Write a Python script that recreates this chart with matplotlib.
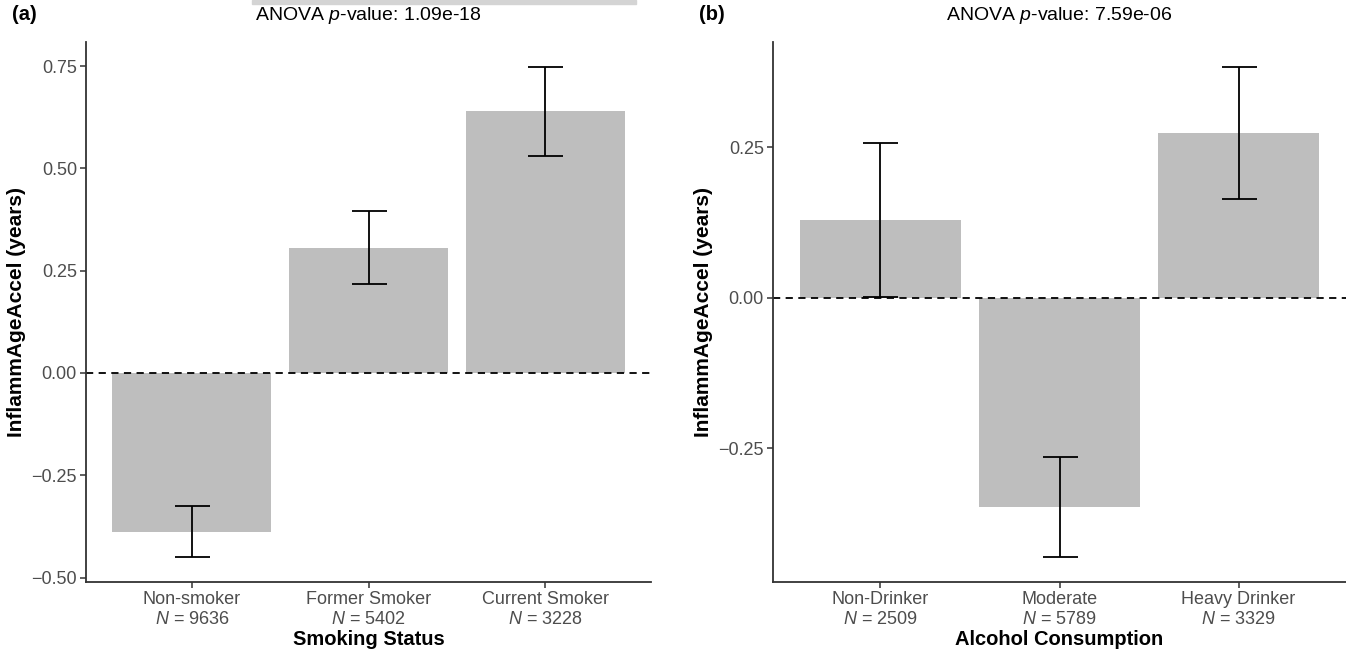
import matplotlib as mpl
import matplotlib.pyplot as plt
from matplotlib.patches import Rectangle
import numpy as np

mpl.rcParams['font.family'] = ['Liberation Sans', 'DejaVu Sans']
mpl.rcParams['mathtext.fontset'] = 'custom'
mpl.rcParams['mathtext.rm'] = 'Liberation Sans'
mpl.rcParams['mathtext.it'] = 'Liberation Sans:italic'

# smoking panel
smoke_groups = ['Non-smoker', 'Former Smoker', 'Current Smoker']
smoke_n = [9636, 5402, 3228]
smoke_mean = [-0.388, 0.306, 0.640]
smoke_err = [0.063, 0.089, 0.109]
smoke_p = '1.09e-18'

# alcohol panel
alc_groups = ['Non-Drinker', 'Moderate', 'Heavy Drinker']
alc_n = [2509, 5789, 3329]
alc_mean = [0.129, -0.348, 0.274]
alc_err = [0.128, 0.083, 0.110]
alc_p = '7.59e-06'

panels = [
    ('(a)', smoke_groups, smoke_n, smoke_mean, smoke_err, smoke_p,
     'Smoking Status', [-0.5, -0.25, 0, 0.25, 0.5, 0.75]),
    ('(b)', alc_groups, alc_n, alc_mean, alc_err, alc_p,
     'Alcohol Consumption', [-0.25, 0, 0.25]),
]

W, H = 1346, 652
fig = plt.figure(figsize=(W / 100, H / 100), dpi=100)
boxes = [(86, 651), (773, 1346)]
top, bottom = 42, 582

for (tag, groups, ns, means, errs, pval, xlab, yticks), (x0, x1) in zip(panels, boxes):
    ax = fig.add_axes([x0 / W, 1 - bottom / H, (x1 - x0) / W, (bottom - top) / H])
    x = np.arange(1, len(groups) + 1)
    ax.bar(x, means, width=0.9, color='#bebebe', zorder=1)
    ax.errorbar(x, means, yerr=errs, fmt='none', ecolor='black',
                elinewidth=1.3, capsize=12.6, capthick=1.3, zorder=3)
    ax.axhline(0, color='black', linestyle=(0, (4, 3)), linewidth=1.3, zorder=2)

    lo = min(m - e for m, e in zip(means, errs))
    hi = max(m + e for m, e in zip(means, errs))
    pad = 0.05 * (hi - lo)
    ax.set_ylim(lo - pad, hi + pad)
    ax.set_xlim(0.4, len(groups) + 0.6)

    ax.set_xticks(x)
    ax.set_xticklabels([f'{g}\n$N$ = {n}' for g, n in zip(groups, ns)],
                       fontsize=13, color='#4d4d4d', linespacing=1.2)
    ax.set_yticks(yticks)
    ax.set_yticklabels([f'{v:.2f}'.replace('-', '\u2212') for v in yticks],
                       fontsize=13, color='#4d4d4d')
    ax.tick_params(length=4, width=1.1, color='#333333', pad=2.5)

    for s in ['top', 'right']:
        ax.spines[s].set_visible(False)
    for s in ['left', 'bottom']:
        ax.spines[s].set_linewidth(1.3)
        ax.spines[s].set_color('#333333')

    ax.set_xlabel(xlab, fontsize=14.5, fontweight='bold', labelpad=2)
    ax.set_ylabel('InflammAgeAccel (years)', fontsize=15, fontweight='bold', labelpad=4)
    fig.text((x0 + x1) / 2 / W, 1 - 15 / H, f'ANOVA $p$-value: {pval}',
             fontsize=14, ha='center', va='center')
    fig.text((x0 - 74) / W, 1 - 15 / H, tag, fontsize=14.5, fontweight='bold',
             ha='left', va='center')

# grey strip cropped in at the top edge of the source image
fig.patches.append(Rectangle((252 / W, 1 - 4 / H), 384 / W, 4 / H,
                             transform=fig.transFigure, color='#d4d4d4'))

fig.savefig('out.png', dpi=100)
